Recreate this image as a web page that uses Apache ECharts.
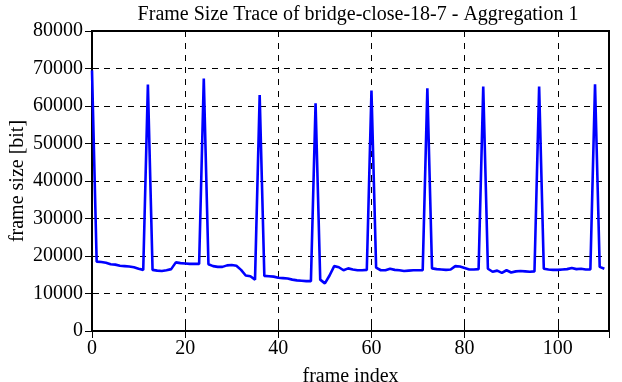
<!DOCTYPE html>
<html>
<head>
<meta charset="utf-8">
<script src="https://cdn.jsdelivr.net/npm/echarts@6/dist/echarts.min.js"></script>
<style>html,body{margin:0;padding:0;background:#fff}#c{width:622px;height:382px}</style>
</head>
<body>
<div id="c"></div>
<script>
const titleText = 'Frame Size Trace of bridge-close-18-7 - Aggregation 1';
const xAxisName = 'frame index';
const yAxisName = 'frame size [bit]';
const frameSizes = [
  69500,
  18500, 18400, 18200, 17800, 17700, 17400, 17300, 17200, 17000, 16600, 16300,
  65700,
  16300, 16100, 16000, 16200, 16500, 18300, 18100, 18000, 17900, 17900, 17900,
  67300,
  17800, 17300, 17100, 17100, 17500, 17600, 17400, 16300, 14800, 14600, 13700,
  62900,
  14700, 14600, 14500, 14200, 14100, 14000, 13700, 13500, 13400, 13300, 13300,
  60700,
  13700, 12700, 14800, 17300, 17000, 16200, 16700, 16400, 16200, 16200, 16300,
  64100,
  16900, 16200, 16200, 16600, 16300, 16200, 16000, 16100, 16200, 16200, 16200,
  64700,
  16700, 16500, 16400, 16300, 16400, 17300, 17200, 16800, 16400, 16400, 16500,
  65200,
  16600, 15800, 16100, 15500, 16200, 15600, 15900, 16000, 15900, 15800, 15900,
  65200,
  16600, 16400, 16300, 16300, 16400, 16500, 16800, 16500, 16600, 16400, 16400,
  65800,
  17100, 16600
];
const xMin = 0, xMax = 111, xStep = 20;
const yMin = 0, yMax = 80000, yStep = 10000;

const seriesData = frameSizes.map((v, i) => [i, v]);
const font = 'Liberation Serif';
const chart = echarts.init(document.getElementById('c'), null, {renderer: 'canvas'});
const tickStyle = {show: true, inside: true, length: 7, lineStyle: {color: '#000', width: 1}};
chart.setOption({
  animation: false,
  backgroundColor: '#fff',
  title: {
    text: titleText, left: 353, top: 0, textAlign: 'center',
    textStyle: {fontFamily: font, fontWeight: 'normal', fontSize: 20, color: '#000'}
  },
  grid: {left: 92, right: 13, top: 31, bottom: 51, show: true, borderColor: '#000', borderWidth: 2,
    backgroundColor: 'transparent', outerBoundsMode: 'none', containLabel: false},
  xAxis: [{
    type: 'value', min: xMin, max: xMax, interval: xStep,
    name: xAxisName, nameLocation: 'middle', nameGap: 36, nameMoveOverlap: false,
    nameTextStyle: {fontFamily: font, fontSize: 20, color: '#000'},
    axisLine: {show: false},
    axisTick: tickStyle,
    axisLabel: {fontFamily: font, fontSize: 20, color: '#000', margin: 8, showMaxLabel: false,
      formatter: v => String(v)},
    splitLine: {show: true, lineStyle: {color: '#000', type: [6, 6], width: 1}}
  }, {
    type: 'value', position: 'top', min: xMin, max: xMax, interval: xStep,
    axisLine: {show: false}, axisTick: tickStyle, axisLabel: {show: false}, splitLine: {show: false}
  }],
  yAxis: [{
    type: 'value', min: yMin, max: yMax, interval: yStep,
    name: yAxisName, nameLocation: 'middle', nameGap: 64, nameMoveOverlap: false,
    nameTextStyle: {fontFamily: font, fontSize: 20, color: '#000'},
    axisLine: {show: false},
    axisTick: tickStyle,
    axisLabel: {fontFamily: font, fontSize: 20, color: '#000', margin: 9, formatter: v => String(v)},
    splitLine: {show: true, lineStyle: {color: '#000', type: [6, 6], width: 1}}
  }, {
    type: 'value', position: 'right', min: yMin, max: yMax, interval: yStep,
    axisLine: {show: false}, axisTick: tickStyle, axisLabel: {show: false}, splitLine: {show: false}
  }],
  series: [{
    type: 'line', data: seriesData, showSymbol: false, symbol: 'none',
    lineStyle: {color: '#0000ff', width: 2.6}, xAxisIndex: 0, yAxisIndex: 0
  }]
});
</script>
</body>
</html>
